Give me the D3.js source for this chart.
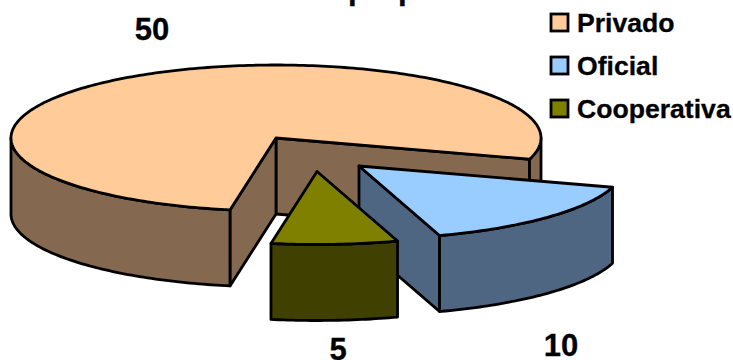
<!DOCTYPE html>
<html>
<head>
<meta charset="utf-8">
<script src="https://cdn.jsdelivr.net/npm/d3@7"></script>
<style>
  html, body { margin: 0; padding: 0; background: #fff; }
  svg { display: block; }
  text { font-family: "Liberation Sans", Arial, sans-serif; font-weight: bold; fill: #000; stroke: #000; stroke-width: 0.3; }
</style>
</head>
<body>
<div id="chart"></div>
<script>
const categories = ['Privado', 'Oficial', 'Cooperativa'];
const values = [50, 10, 5];
const topColors = ['#FFCC99', '#99CCFF', '#808000'];
const sideColors = ['#856850', '#4F6682', '#404000'];

const width = 733;
const height = 360;

// pie layout, the whole thing is a flattened disc
const cx = 276, cy = 138;
const rx = 265, ry = 73, depth = 76;
const explode = [[0, 0], [83, 28], [41, 33.5]];
const labelPos = [[152, 29], [561, 345], [338, 349]];

const svg = d3.select('#chart').append('svg')
    .attr('width', width)
    .attr('height', height);

const pie = d3.pie().sort(null)
    .startAngle(190 * Math.PI / 180)
    .endAngle(550 * Math.PI / 180);
const slices = pie(values);

const xScale = d3.scaleLinear().domain([-1, 1]).range([-rx, rx]);
const yScale = d3.scaleLinear().domain([-1, 1]).range([ry, -ry]);
const line = d3.line();
const deg = a => a * 180 / Math.PI;

function rim(a0, a1, x0, y0) {
    const steps = d3.range(a0, a1, 1).concat([a1]);
    return steps.map(a => {
        const r = a * Math.PI / 180;
        return [x0 + xScale(Math.sin(r)), y0 + yScale(Math.cos(r))];
    });
}

function face(pts, fill) {
    return chart.append('path')
        .attr('d', line(pts) + 'Z')
        .attr('fill', fill)
        .attr('stroke', '#000')
        .attr('stroke-width', 2.8)
        .attr('stroke-linejoin', 'round');
}

const chart = svg.append('g');

slices.forEach((s, i) => {
    const x0 = cx + explode[i][0];
    const y0 = cy + explode[i][1];
    const a0 = deg(s.startAngle);
    const a1 = deg(s.endAngle);

    // flat walls along the cut, only when they turn to the viewer
    [[a1, a1 + 90], [a0, a0 - 90]].forEach(([a, normal]) => {
        if (Math.cos(normal * Math.PI / 180) < 0) {
            const p = rim(a, a, x0, y0)[0];
            face([[x0, y0], p, [p[0], p[1] + depth], [x0, y0 + depth]], sideColors[i]);
        }
    });

    // curved outer wall, front half of the disc only
    [0, 1].forEach(k => {
        const lo = Math.max(a0, 90 + 360 * k);
        const hi = Math.min(a1, 270 + 360 * k);
        if (lo < hi) {
            const top = rim(lo, hi, x0, y0);
            const bottom = top.map(p => [p[0], p[1] + depth]).reverse();
            face(top.concat(bottom), sideColors[i]);
        }
    });

    face([[x0, y0]].concat(rim(a0, a1, x0, y0)), topColors[i]);
});

// value labels
svg.selectAll('text.value')
    .data(values)
    .join('text')
    .attr('class', 'value')
    .attr('x', (d, i) => labelPos[i][0])
    .attr('y', (d, i) => labelPos[i][1])
    .attr('dy', '0.35em')
    .attr('text-anchor', 'middle')
    .attr('font-size', 31)
    .text(d => d);

// legend
const legend = svg.selectAll('g.legend')
    .data(categories)
    .join('g')
    .attr('class', 'legend')
    .attr('transform', (d, i) => `translate(551,${14 + i * 43})`);

legend.append('rect')
    .attr('width', 17)
    .attr('height', 17)
    .attr('fill', (d, i) => topColors[i])
    .attr('stroke', '#000')
    .attr('stroke-width', 2.8);

legend.append('text')
    .attr('x', 26)
    .attr('y', 18)
    .attr('font-size', 26.6)
    .text(d => d);

// title is cut off by the top of the picture, only the descenders show
svg.append('text')
    .attr('x', 212)
    .attr('y', -1.5)
    .attr('font-size', 31)
    .text('Clase de propiedad');
</script>
</body>
</html>
